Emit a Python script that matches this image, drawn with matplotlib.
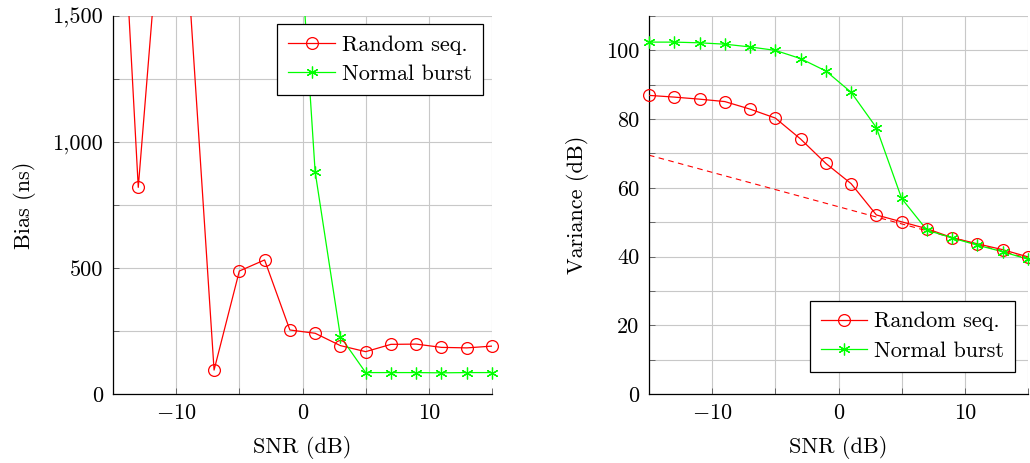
import numpy as np
import matplotlib
matplotlib.use('Agg')
import matplotlib.pyplot as plt
from matplotlib.ticker import FixedLocator, FuncFormatter

plt.rcParams['font.family'] = 'serif'
plt.rcParams['font.serif'] = ['cmr10']
plt.rcParams['mathtext.fontset'] = 'cm'
plt.rcParams['axes.formatter.use_mathtext'] = True
plt.rcParams['font.size'] = 16

# SNR points (dB)
snr = [-15, -13, -11, -9, -7, -5, -3, -1, 1, 3, 5, 7, 9, 11, 13, 15]

# left plot: bias (ns)
bias_random = [2680, 820, 2060, 1630, 95, 488, 532, 254, 241, 192, 168, 197, 198, 185, 183, 190]
bias_normal = [3400, 3300, 3200, 3100, 3000, 2900, 2700, 2430, 882, 228, 85, 85, 85, 84, 85, 85]

# right plot: variance (dB)
var_random = [86.9, 86.4, 85.8, 85.1, 82.9, 80.3, 74.2, 67.1, 61.2, 52.1, 50.1, 48.1, 45.5, 43.7, 42.0, 39.9]
var_normal = [102.4, 102.4, 102.2, 101.8, 101.0, 100.0, 97.6, 94.0, 87.8, 77.5, 56.9, 47.7, 45.4, 43.3, 41.4, 39.2]
var_bound = [69.5, 67.5, 65.5, 63.5, 61.5, 59.5, 57.5, 55.5, 53.5, 51.5, 49.5, 47.5, 45.5, 43.5, 41.5, 39.5]

RED = '#ff0000'
GREEN = '#00ff00'
GRID = '#c8c8c8'


def fmt(v, pos):
    if v < 0:
        return r'$-%d$' % abs(v)
    return '{:,.0f}'.format(v)


def plot_series(ax, x, y, color, marker, label, ymax):
    x = np.array(x)
    y = np.array(y)
    mk = 'o' if marker == 'o' else (6, 2, 0)
    ax.plot(x, y, color=color, lw=0.9, zorder=3)
    # markers are not clipped at the axes edge (pgfplots style)
    vis = y <= ymax
    ax.plot(x[vis], y[vis], ls='none', marker=mk, ms=8.5, mfc='none', mec=color,
            mew=0.9, clip_on=False, zorder=4)
    # legend proxy
    ax.plot([], [], color=color, lw=0.9, marker=mk, ms=8.5, mfc='none', mec=color, mew=0.9, label=label)


def style_axes(ax, ymax, ymajor, yminor):
    ax.set_xlim(-15, 15)
    ax.set_ylim(0, ymax)
    ax.xaxis.set_major_locator(FixedLocator([-10, 0, 10]))
    ax.xaxis.set_minor_locator(FixedLocator([-15, -5, 5, 15]))
    ax.yaxis.set_major_locator(FixedLocator(ymajor))
    ax.yaxis.set_minor_locator(FixedLocator(yminor))
    ax.xaxis.set_major_formatter(FuncFormatter(fmt))
    ax.yaxis.set_major_formatter(FuncFormatter(fmt))
    ax.grid(True, which='both', color=GRID, lw=0.8)
    ax.set_axisbelow(True)
    ax.spines['top'].set_visible(False)
    ax.spines['right'].set_visible(False)
    ax.spines['left'].set_linewidth(0.9)
    ax.spines['bottom'].set_linewidth(0.9)
    ax.tick_params(which='both', direction='in', length=4, width=0.6, color='#555555', pad=7)
    ax.set_xlabel('SNR (dB)', labelpad=9)


def add_legend(ax, loc, anchor):
    leg = ax.legend(loc=loc, bbox_to_anchor=anchor, fancybox=False, framealpha=1,
                    edgecolor='black', handlelength=2.1, borderpad=0.5, labelspacing=0.45,
                    handletextpad=0.3, borderaxespad=0)
    leg.get_frame().set_linewidth(0.9)


fig = plt.figure(figsize=(10.3, 4.63), dpi=100)
ax1 = fig.add_axes([113 / 1030, 69 / 463, 379 / 1030, 378 / 463])
ax2 = fig.add_axes([649 / 1030, 69 / 463, 379 / 1030, 378 / 463])

# left: bias
plot_series(ax1, snr, bias_random, RED, 'o', 'Random seq.', 1500)
plot_series(ax1, snr, bias_normal, GREEN, '*', 'Normal burst', 1500)
style_axes(ax1, 1500, [0, 500, 1000, 1500], [250, 750, 1250])
ax1.set_ylabel('Bias (ns)', labelpad=12)
add_legend(ax1, 'upper right', (0.976, 0.979))

# right: variance
ax2.plot(snr, var_bound, color=RED, lw=0.8, ls=(0, (5, 4)), zorder=2)
plot_series(ax2, snr, var_random, RED, 'o', 'Random seq.', 110)
plot_series(ax2, snr, var_normal, GREEN, '*', 'Normal burst', 110)
style_axes(ax2, 110, [0, 20, 40, 60, 80, 100], [10, 30, 50, 70, 90, 110])
ax2.set_ylabel('Variance (dB)', labelpad=12)
add_legend(ax2, 'lower right', (0.966, 0.058))

fig.savefig('out.png', dpi=100)
